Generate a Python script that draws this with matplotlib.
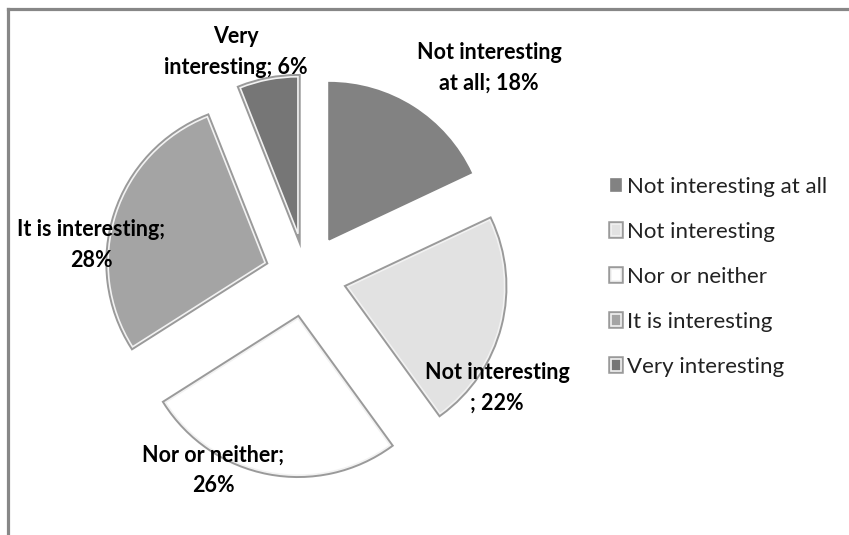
import matplotlib.pyplot as plt
import matplotlib.patheffects as pe

# data
categories = ['Not interesting at all', 'Not interesting', 'Nor or neither',
              'It is interesting', 'Very interesting']
shares = [18, 22, 26, 28, 6]
slice_labels = ['Not interesting\nat all; 18%', 'Not interesting\n; 22%',
                'Nor or neither;\n26%', 'It is interesting;\n28%',
                'Very\ninteresting; 6%']
colors = ['#828282', '#e2e2e2', '#ffffff', '#a4a4a4', '#767676']

fig = plt.figure(figsize=(8.49, 5.35), dpi=100)

# frame: only top and left borders are visible
frame = fig.add_axes([7.5 / 849, -0.05, 1.1, 1.05 - 9 / 535])
frame.set_xticks([])
frame.set_yticks([])
for side in ['right', 'bottom']:
    frame.spines[side].set_visible(False)
for side in ['left', 'top']:
    frame.spines[side].set_color('#878787')
    frame.spines[side].set_linewidth(2.3)

# main axes in pixel units
ax = fig.add_axes([0, 0, 1, 1])

radius = 157
wedges, _ = ax.pie(shares, colors=colors, startangle=90, counterclock=False,
                   center=(306, 259), radius=radius, explode=[43] * 5,
                   frame=True, wedgeprops=dict(edgecolor='#f2f2f2', linewidth=1.2))
ax.set_xlim(0, 849)
ax.set_ylim(0, 535)
ax.set_aspect('equal')
ax.axis('off')

# first slice is flat, the others get a bevel look
wedges[0].set_edgecolor(colors[0])
for w in wedges[1:]:
    w.set_path_effects([pe.Stroke(linewidth=4, foreground='#9a9a9a'), pe.Normal()])

lab_font = dict(family='Lato', fontsize=15.5, fontweight='bold', color='black',
                linespacing=1.55)
ax.text(489, 467, slice_labels[0], ha='center', va='center', **lab_font)
ax.text(497, 147, slice_labels[1], ha='center', va='center', **lab_font)
ax.text(213, 65, slice_labels[2], ha='center', va='center', **lab_font)
ax.text(91, 290, slice_labels[3], ha='center', va='center', **lab_font)
ax.text(236, 483, slice_labels[4], ha='center', va='center', **lab_font)

leg = ax.legend(wedges, categories, loc='upper left',
                bbox_to_anchor=(611 / 849, 1 - 177 / 535), frameon=False,
                prop=dict(family='Lato', size=16), labelspacing=1.12,
                handlelength=0.45, handleheight=0.45, handletextpad=0.28,
                borderpad=0, borderaxespad=0)
for t in leg.get_texts():
    t.set_color('#222222')

fig.savefig('out.png', dpi=100)
